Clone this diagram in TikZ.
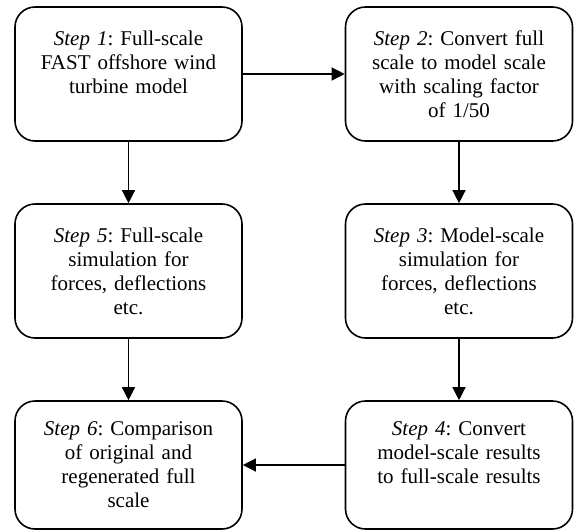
\documentclass[tikz,border=0pt]{standalone}
\usepackage{fontspec}
\setmainfont{Liberation Serif}
\usetikzlibrary{arrows.meta}
\tikzset{
  stepbox/.style={draw, line width=1.6pt, rounded corners=20pt, align=center,
    text width=220pt, inner sep=0pt, minimum width=227pt, minimum height=134pt,
    font=\fontsize{21}{24}\selectfont\frenchspacing},
  flow/.style={line width=1.3pt, -{Triangle[length=13pt,width=13pt]}}
}
\begin{document}
\begin{tikzpicture}[x=1pt,y=1pt]
\useasboundingbox (0,0) rectangle (581,-531);
\node[stepbox] (s1) at (128.5,-74) {\textit{Step 1}: Full-scale\\FAST offshore wind\\turbine model\\\mbox{}};
\node[stepbox] (s2) at (459,-74) {\textit{Step 2}: Convert full\\scale to model scale\\with scaling factor\\of 1/50};
\node[stepbox] (s5) at (128.5,-271) {\textit{Step 5}: Full-scale\\simulation for\\forces, deflections\\etc.};
\node[stepbox] (s3) at (459,-271) {\textit{Step 3}: Model-scale\\simulation for\\forces, deflections\\etc.};
\node[stepbox, minimum height=128pt] (s6) at (128.5,-465) {\textit{Step 6}: Comparison\\of original and\\regenerated full\\scale};
\node[stepbox, minimum height=128pt] (s4) at (459,-465) {\textit{Step 4}: Convert\\model-scale results\\to full-scale results\\\mbox{}};
\draw[flow] (s1) -- (s2);
\draw[flow] (s1) -- (s5);
\draw[flow] (s2) -- (s3);
\draw[flow] (s5) -- (s6);
\draw[flow] (s3) -- (s4);
\draw[flow] (s4) -- (s6);
\end{tikzpicture}
\end{document}
